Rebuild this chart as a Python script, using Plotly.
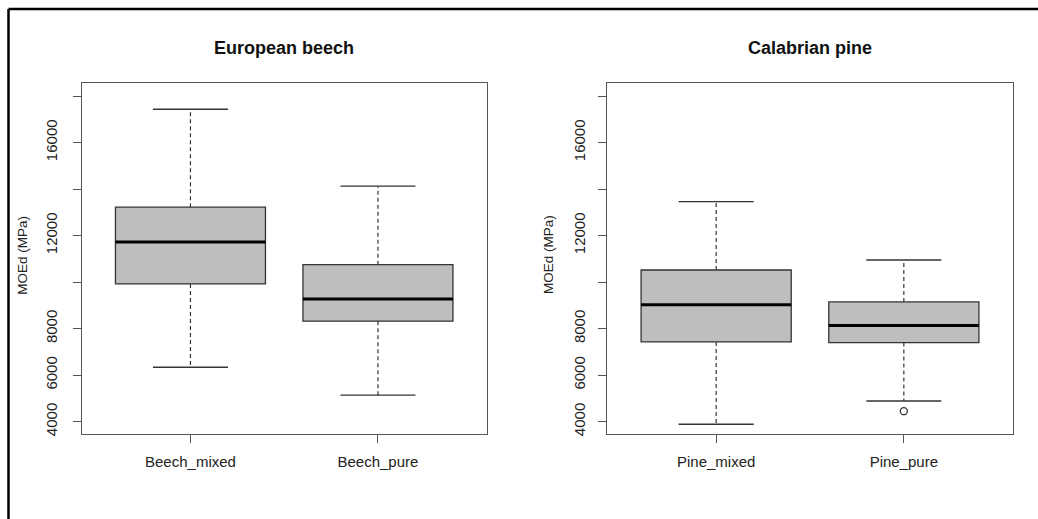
import plotly.graph_objects as go

# ---------------- data ----------------
beech_groups = ["Beech_mixed", "Beech_pure"]
beech_lower = [6340, 5140]
beech_q1 = [9920, 8320]
beech_median = [11720, 9270]
beech_q3 = [13220, 10750]
beech_upper = [17430, 14130]
beech_outliers = [[], []]

pine_groups = ["Pine_mixed", "Pine_pure"]
pine_lower = [3890, 4890]
pine_q1 = [7430, 7400]
pine_median = [9030, 8140]
pine_q3 = [10520, 9150]
pine_upper = [13460, 10950]
pine_outliers = [[], [4450]]

y_tickvals = [4000, 6000, 8000, 10000, 12000, 14000, 16000, 18000]
y_ticktext = ["4000", "6000", "8000", "", "12000", "", "16000", ""]
panel_titles = ["European beech", "Calabrian pine"]
y_title = "MOEd (MPa)"

# ---------------- layout constants ----------------
W, H = 1038, 519
FONT = "Arial, Liberation Sans, Helvetica, sans-serif"
BOX_FILL = "#BEBEBE"
LINE = "#333333"
BOX_W = 0.8

def px_x(p):
    return p / W

def px_y(p):
    return 1 - p / H

panels = [
    dict(groups=beech_groups, lower=beech_lower, q1=beech_q1, med=beech_median,
         q3=beech_q3, upper=beech_upper, out=beech_outliers,
         dom=(81.7, 486.7), xa="x", ya="y", title=panel_titles[0], ytx=21.7, ystand=10),
    dict(groups=pine_groups, lower=pine_lower, q1=pine_q1, med=pine_median,
         q3=pine_q3, upper=pine_upper, out=pine_outliers,
         dom=(607.3, 1012.7), xa="x2", ya="y2", title=panel_titles[1], ytx=548, ystand=7),
]

fig = go.Figure()

for pn in panels:
    pos = list(range(1, len(pn["groups"]) + 1))
    for i, p in enumerate(pos):
        # box body
        fig.add_trace(go.Box(
            x=[p], q1=[pn["q1"][i]], median=[pn["med"][i]], q3=[pn["q3"][i]],
            lowerfence=[pn["q1"][i]], upperfence=[pn["q3"][i]],
            width=BOX_W, whiskerwidth=0, fillcolor=BOX_FILL,
            line=dict(color=LINE, width=1.3), boxpoints=False,
            hoverinfo="skip", showlegend=False, xaxis=pn["xa"], yaxis=pn["ya"]))
        # dashed whiskers
        fig.add_trace(go.Scatter(
            x=[p, p, None, p, p],
            y=[pn["q3"][i], pn["upper"][i], None, pn["q1"][i], pn["lower"][i]],
            mode="lines", line=dict(color=LINE, width=1.2, dash="4px,3px"),
            hoverinfo="skip", showlegend=False, xaxis=pn["xa"], yaxis=pn["ya"]))
        # staples
        hw = BOX_W / 4
        fig.add_trace(go.Scatter(
            x=[p - hw, p + hw, None, p - hw, p + hw],
            y=[pn["upper"][i], pn["upper"][i], None, pn["lower"][i], pn["lower"][i]],
            mode="lines", line=dict(color=LINE, width=1.3),
            hoverinfo="skip", showlegend=False, xaxis=pn["xa"], yaxis=pn["ya"]))
        # thick median
        fig.add_trace(go.Scatter(
            x=[p - BOX_W / 2, p + BOX_W / 2], y=[pn["med"][i], pn["med"][i]],
            mode="lines", line=dict(color="black", width=3),
            hoverinfo="skip", showlegend=False, xaxis=pn["xa"], yaxis=pn["ya"]))
        # outliers
        if pn["out"][i]:
            fig.add_trace(go.Scatter(
                x=[p] * len(pn["out"][i]), y=pn["out"][i], mode="markers",
                marker=dict(symbol="circle-open", size=7, color=LINE, line=dict(width=1.3)),
                hoverinfo="skip", showlegend=False, xaxis=pn["xa"], yaxis=pn["ya"]))

axis_common = dict(showgrid=False, zeroline=False, showline=True, mirror=True,
                   linecolor="#555555", linewidth=1.2, ticks="outside", ticklen=8,
                   tickcolor="#555555", tickwidth=1.2,
                   tickfont=dict(family=FONT, size=15, color="#222222"),
                   automargin=False)

ydom = [px_y(434), px_y(83.3)]
layout_axes = {}
for k, pn in enumerate(panels):
    sx = "" if k == 0 else "2"
    layout_axes["xaxis" + sx] = dict(
        axis_common, domain=[px_x(pn["dom"][0]), px_x(pn["dom"][1])],
        range=[0.42, 2.58], tickmode="array", tickvals=[1, 2],
        ticktext=pn["groups"], anchor="y" + sx, ticklabelstandoff=6)
    layout_axes["yaxis" + sx] = dict(
        axis_common, domain=ydom, range=[3471, 18546], tickmode="array",
        tickvals=y_tickvals, ticktext=y_ticktext, tickangle=-90,
        anchor="x" + sx, ticklabelstandoff=pn["ystand"])

annotations = []
for pn in panels:
    cx = (pn["dom"][0] + pn["dom"][1]) / 2
    annotations.append(dict(
        text="<b>" + pn["title"] + "</b>", x=px_x(cx), y=px_y(47.5),
        xref="paper", yref="paper", showarrow=False, xanchor="center", yanchor="middle",
        font=dict(family=FONT, size=18, color="#111111")))
    annotations.append(dict(
        text=y_title, x=px_x(pn["ytx"]), y=px_y(255), textangle=-90,
        xref="paper", yref="paper", showarrow=False, xanchor="center", yanchor="middle",
        font=dict(family=FONT, size=13.5, color="#222222")))

shapes = [
    dict(type="line", xref="paper", yref="paper", x0=px_x(8.5), x1=1.0,
         y0=px_y(9), y1=px_y(9), line=dict(color="black", width=2.5)),
    dict(type="line", xref="paper", yref="paper", x0=px_x(8.5), x1=px_x(8.5),
         y0=px_y(9), y1=0.0, line=dict(color="black", width=2.5)),
]

fig.update_layout(
    width=W, height=H, margin=dict(l=0, r=0, t=0, b=0),
    paper_bgcolor="white", plot_bgcolor="white",
    annotations=annotations, shapes=shapes, showlegend=False,
    **layout_axes)

fig.write_html("out.html", config={"displayModeBar": False},
               post_script="document.body.style.margin='0';document.body.style.padding='0';")
